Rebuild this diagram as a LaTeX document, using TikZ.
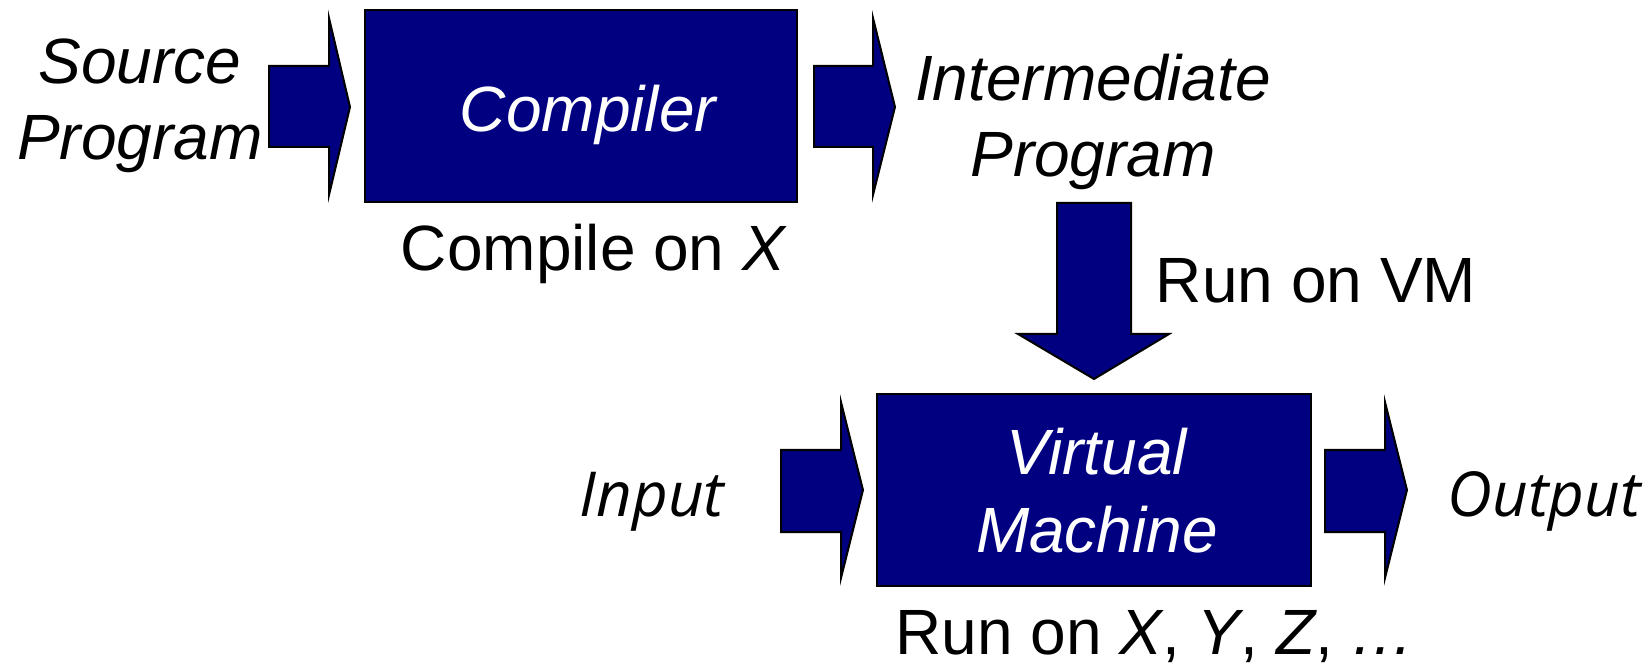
\documentclass[tikz,border=0pt]{standalone}
\usepackage{fontspec}
\setmainfont{Liberation Sans}
\newfontfamily\humfont{Open Sans}
\definecolor{boxblue}{RGB}{0,0,128}
\begin{document}
\begin{tikzpicture}[x=0.5pt,y=-0.5pt,
  box/.style={draw=black,line width=1pt,fill=boxblue,inner sep=0pt},
  boxtext/.style={inner sep=0pt,text=white,font=\fontsize{32}{39}\selectfont\itshape,align=center},
  blockarrow/.style={draw=black,line width=1pt,fill=boxblue,line join=miter},
  lbl/.style={inner sep=0pt,font=\fontsize{32}{38}\selectfont,align=center},
  ilbl/.style={lbl,font=\fontsize{32}{38}\selectfont\itshape},
  hlbl/.style={inner sep=0pt,font=\fontsize{31}{36}\selectfont\humfont\itshape}]
\useasboundingbox (0,0) rectangle (1652,667);
% boxes
\node[box,minimum width=216pt,minimum height=96pt] (compiler) at (581,106) {};
\node[box,minimum width=217pt,minimum height=96pt] (vm) at (1094,490) {};
\node[boxtext,anchor=base] (compilertext) at (588,132) {Compiler};
\node[boxtext] (vmtext) at (1097,491) {Virtual\\Machine};
% block arrows
\draw[blockarrow] (269,66) -- (329,66) -- (329,18) -- (350,107) -- (329,195) -- (329,147) -- (269,147) -- cycle;
\draw[blockarrow] (814,66) -- (873,66) -- (873,18) -- (895,107) -- (873,195) -- (873,147) -- (814,147) -- cycle;
\draw[blockarrow] (1057,203) -- (1131,203) -- (1131,334) -- (1169,334) -- (1094,379) -- (1018,334) -- (1057,334) -- cycle;
\draw[blockarrow] (781,450) -- (841,450) -- (841,402) -- (863,490) -- (841,578) -- (841,532) -- (781,532) -- cycle;
\draw[blockarrow] (1325,450) -- (1385,450) -- (1385,402) -- (1407,490) -- (1385,578) -- (1385,532) -- (1325,532) -- cycle;
% labels
\node[ilbl] (src) at (140,105.5) {Source\\Program};
\node[ilbl] (inter) at (1093,122) {Intermediate\\Program};
\node[lbl,anchor=base] (cox) at (594,271) {Compile on \textit{X}};
\node[lbl,anchor=base] (rovm) at (1316,303) {Run on VM};
\node[hlbl,anchor=base] (in) at (652,516) {Input};
\node[hlbl,anchor=base] (out) at (1544,516) {Output};
\node[lbl,anchor=base] (roxyz) at (1155,654) {Run on \textit{X}, \textit{Y}, \textit{Z}, \textit{…}};
\end{tikzpicture}
\end{document}
